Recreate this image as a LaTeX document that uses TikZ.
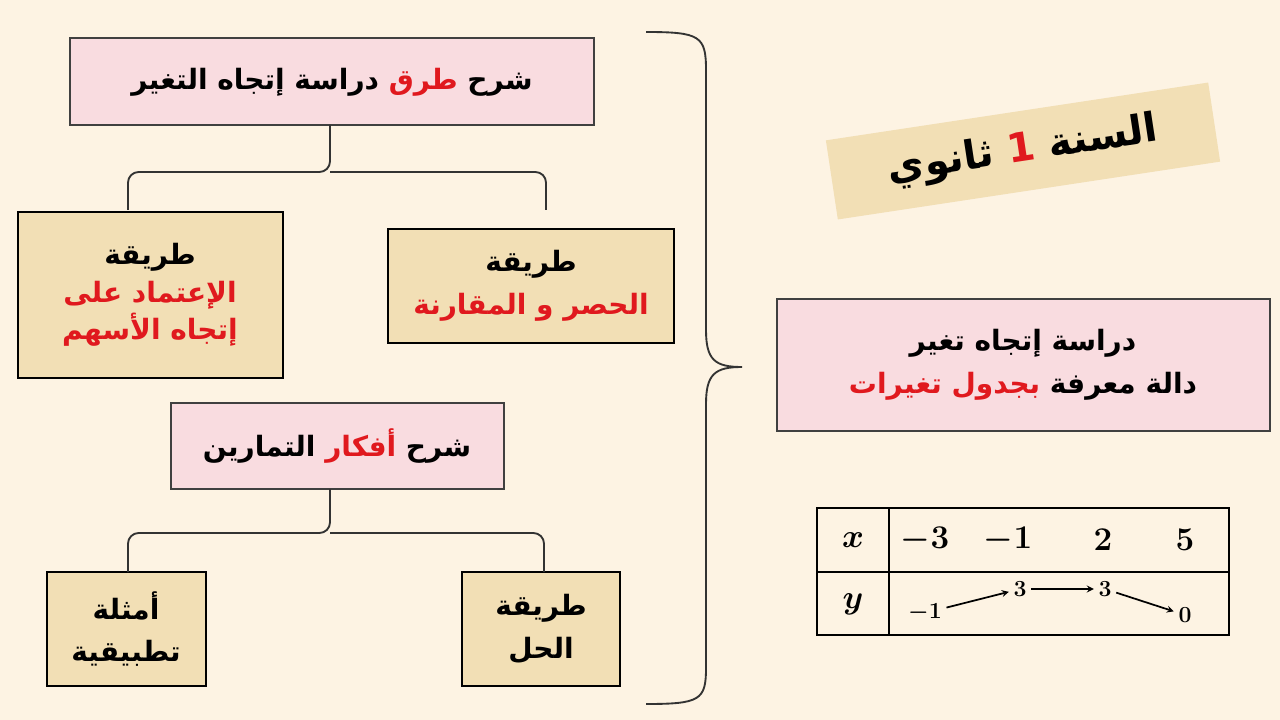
\documentclass[tikz,border=0pt]{standalone}
\usepackage{fontspec}
\usepackage{bm}
\TeXXeTstate=1
\newfontfamily\ar[Script=Arabic]{DejaVu Sans}
\definecolor{bg}{HTML}{FDF3E3}
\definecolor{pinkbox}{HTML}{F9DCE0}
\definecolor{tanbox}{HTML}{F2DFB5}
\definecolor{red1}{HTML}{E0191E}
\newcommand\rd[1]{{\color{red1}\beginR #1\endR}}
\newcommand\bk[1]{{\color{black}\beginR #1\endR}}
\tikzset{
 pbox/.style={draw=black!75, line width=1.3pt, fill=pinkbox},
 tbox/.style={draw=black, line width=1.6pt, fill=tanbox},
 txt/.style={font=\ar\bfseries\fontsize{21}{32}\selectfont, align=center},
 br/.style={line width=1.4pt, black!80, rounded corners=8pt},
 tn/.style={font=\fontsize{24}{26}\selectfont},
 tv/.style={font=\fontsize{19}{22}\selectfont},
 ar1/.style={-stealth,line width=1.3pt},
}
\begin{document}
\begin{tikzpicture}[x=0.75pt,y=-0.75pt]
\fill[bg] (0,0) rectangle (1280,720);
\useasboundingbox (0,0) rectangle (1280,720);
% top box
\draw[pbox] (70,38) rectangle (594,125);
\node[txt] (t1) at (332,82) {\bk{دراسة إتجاه التغير} \rd{طرق} \bk{شرح}};
\draw[pbox] (171,403) rectangle (504,489);
\node[txt] (t2) at (337,446) {\bk{التمارين} \rd{أفكار} \bk{شرح}};
% tan boxes
\draw[tbox] (18,212) rectangle (283,378);
\node[txt] (b1) at (150,295) {\bk{طريقة}\\[-4pt]\rd{الإعتماد على}\\[-4pt]\rd{إتجاه الأسهم}};
\draw[tbox] (388,229) rectangle (674,343);
\node[txt] (b2) at (531,286) {\bk{طريقة}\\\rd{الحصر و المقارنة}};
\draw[tbox] (47,572) rectangle (206,686);
\node[txt] (b3) at (126,629) {\bk{أمثلة}\\\bk{تطبيقية}};
\draw[tbox] (462,572) rectangle (620,686);
\node[txt] (b4) at (541,629) {\bk{طريقة}\\\bk{الحل}};
% small braces
\draw[br] (128,210) -- (128,172) -- (330,172) -- (330,125);
\draw[br] (330,172) -- (546,172) -- (546,210);
\draw[br] (128,572) -- (128,533) -- (330,533) -- (330,489);
\draw[br] (330,533) -- (544,533) -- (544,572);
% big brace
\draw[line width=1.4pt,black!80] (646,32) .. controls (700,32) and (706,36) .. (706,70)
 -- (706,330) .. controls (706,360) and (715,367) .. (742,367)
 .. controls (715,367) and (706,374) .. (706,404) -- (706,668)
 .. controls (706,700) and (700,704) .. (646,704);
% right box
\draw[pbox] (777,299) rectangle (1270,431);
\node[txt] (r1) at (1023,365) {\bk{دراسة إتجاه تغير}\\\rd{بجدول تغيرات} \bk{دالة معرفة}};
% title
\node[fill=tanbox, minimum width=290, minimum height=60, rotate=8.6, inner sep=0pt] (title) at (1023,151) {};
\node[txt, font=\ar\bfseries\fontsize{30}{34}\selectfont, rotate=8.6] (tt) at (1023,151) {\bk{ثانوي} \rd{1} \bk{السنة}};
% table
\draw[line width=1.3pt] (817,508) rectangle (1229,635);
\draw[line width=1.3pt] (889,508) -- (889,635);
\draw[line width=1.3pt] (817,572) -- (1229,572);
\node[tn] (x) at (853,540) {$\bm{x}$};
\node[tn] (y) at (853,604) {$\bm{y}$};
\node[tn] (x1) at (925,540) {$\bm{-3}$};
\node[tn] (x2) at (1008,540) {$\bm{-1}$};
\node[tn] (x3) at (1103,540) {$\bm{2}$};
\node[tn] (x4) at (1185,540) {$\bm{5}$};
\node[tv] (y1) at (925,613) {$\bm{-1}$};
\node[tv] (y2) at (1020,589) {$\bm{3}$};
\node[tv] (y3) at (1105,589) {$\bm{3}$};
\node[tv] (y4) at (1185,615) {$\bm{0}$};
\draw[ar1] (y1) -- (y2);
\draw[ar1] (y2) -- (y3);
\draw[ar1] (y3) -- (y4);
\end{tikzpicture}
\end{document}
